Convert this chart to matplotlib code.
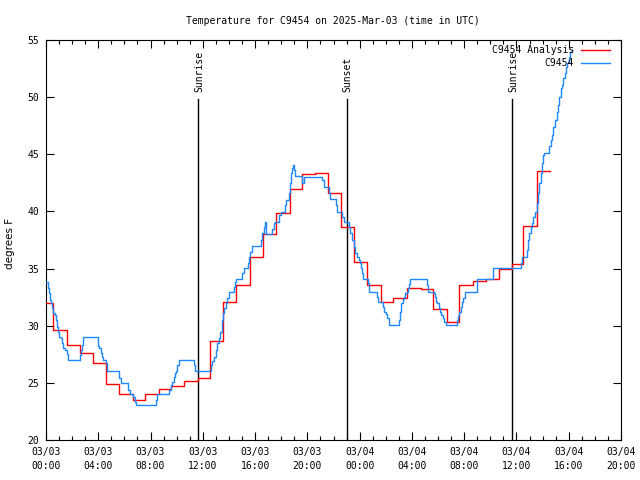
import numpy as np
import matplotlib
matplotlib.use('Agg')
import matplotlib.pyplot as plt
from matplotlib.ticker import MultipleLocator, FuncFormatter

# hours since 2025-03-03 00:00 UTC
obs_hours = [0.0, 0.15, 0.23, 0.31, 0.41, 0.49, 0.56, 0.66, 0.74, 0.82, 0.92, 1.0, 1.15, 1.23,
             1.33, 1.48, 1.58, 1.69, 2.61, 2.71, 2.78, 2.86, 3.96, 4.06, 4.21, 4.32, 4.39, 4.57,
             4.65, 5.62, 5.72, 6.31, 6.44, 6.69, 6.79, 6.9, 8.45, 8.53, 9.45, 9.55, 9.66, 9.76,
             9.86, 9.96, 10.06, 10.17, 11.29, 11.37, 12.62, 12.74, 12.87, 12.98, 13.08, 13.21,
             13.33, 13.44, 13.54, 13.64, 13.77, 13.84, 13.97, 14.36, 14.43, 14.53, 14.97, 15.12,
             15.43, 15.53, 15.63, 15.74, 16.45, 16.55, 16.65, 16.73, 16.81, 16.86, 17.32, 17.42,
             17.55, 17.83, 17.98, 18.26, 18.37, 18.57, 18.65, 18.75, 18.83, 18.88, 18.95, 19.08,
             19.57, 19.72, 21.12, 21.25, 21.66, 21.76, 22.17, 22.27, 22.66, 22.78, 23.17, 23.24,
             23.4, 23.6, 23.68, 23.81, 23.93, 24.01, 24.11, 24.21, 24.27, 24.62, 24.73, 25.34,
             25.39, 25.8, 25.9, 26.0, 26.1, 26.23, 26.99, 27.08, 27.18, 27.28, 27.38, 27.49,
             27.59, 27.69, 27.79, 27.89, 29.17, 29.22, 29.66, 29.73, 29.83, 29.94, 30.04, 30.14,
             30.24, 30.35, 30.45, 30.6, 31.47, 31.52, 31.62, 31.72, 31.83, 31.93, 32.03, 32.95,
             33.0, 34.18, 34.23, 36.37, 36.45, 36.78, 36.88, 36.98, 37.09, 37.19, 37.29, 37.39,
             37.6, 37.67, 37.75, 37.85, 37.98, 38.06, 38.11, 38.52, 38.62, 38.75, 38.83, 38.93,
             39.08, 39.19, 39.29, 39.39, 39.51, 39.59, 39.69, 39.77, 39.89, 39.99, 40.09, 40.22]
obs_temp = [33.83, 33.27, 32.83, 32.25, 31.96, 31.52, 31.08, 30.94, 30.5, 29.92, 29.48, 29.04, 28.9, 28.46,
            28.08, 27.88, 27.5, 27.0, 27.44, 27.88, 28.31, 28.98, 28.23, 28.02, 27.58, 27.29, 27.0, 26.71,
            26.04, 25.4, 24.96, 24.38, 24.0, 23.74, 23.36, 23.06, 23.5, 24.0, 24.38, 24.81, 25.1, 25.54,
            25.83, 26.04, 26.56, 27.0, 26.53, 26.04, 26.57, 26.95, 27.3, 27.88, 28.47, 28.9,
            29.49, 30.51, 31.09, 31.53, 32.02, 32.4, 32.99, 33.42, 33.86, 34.06, 34.59, 35.03,
            35.47, 35.99, 36.49, 37.01, 37.51, 38.09, 38.67, 39.05, 38.53, 38.03, 38.5, 39.02,
            39.11, 39.7, 39.98, 40.57, 41.0, 41.59, 42.46, 43.34, 43.78, 44.07, 43.63, 43.13,
            42.46, 43.05, 42.76, 42.11, 41.59, 41.06, 40.57, 39.98, 39.55, 39.11, 38.67, 38.09,
            37.5, 36.92, 36.33, 35.98, 35.75, 35.46, 35.02, 34.58, 34.06, 33.71, 32.98, 32.54,
            32.05, 31.67, 31.23, 31.03, 30.65, 30.06, 30.5, 31.23, 32.02, 32.31, 32.54, 32.83,
            32.98, 33.27, 33.65, 34.06, 33.56, 32.98, 32.83, 32.54, 32.1, 31.96, 31.52, 31.23,
            30.94, 30.65, 30.36, 30.06, 30.5, 30.85, 31.23, 31.67, 32.05, 32.4, 32.98, 33.42,
            34.06, 34.58, 35.02, 35.46, 35.99, 36.63, 37.5, 38.09, 38.67, 39.02, 39.54, 39.98,
            40.71, 41.58, 42.46, 43.33, 44.21, 44.94, 45.08, 45.73, 46.25, 46.69, 47.36, 48.0,
            48.73, 49.31, 50.04, 50.77, 51.06, 51.65, 52.14, 52.67, 52.96, 53.54, 53.98, 54.13]

ana_hours = [0.0, 0.56, 1.58, 2.6, 3.63, 4.6, 5.6, 6.64, 7.6, 8.63, 9.55, 10.57, 11.6, 12.52,
             13.54, 14.54, 15.58, 16.6, 17.62, 18.65, 19.6, 20.6, 21.58, 22.58, 23.57, 24.57,
             25.6, 26.57, 27.6, 28.66, 29.63, 30.65, 31.62, 32.64, 33.69, 34.64, 35.66, 36.5,
             37.6, 38.57]
ana_temp = [32.0, 29.6, 28.3, 27.6, 26.7, 24.9, 24.0, 23.5, 24.0, 24.5, 24.7, 25.15, 25.4, 28.65,
            32.05, 33.6, 36.0, 38.0, 39.85, 42.0, 43.3, 43.4, 41.65, 38.6, 35.55, 33.55,
            32.1, 32.4, 33.3, 33.2, 31.45, 30.35, 33.55, 33.95, 34.1, 34.95, 35.4, 38.75,
            43.5, 43.5]

events = ['Sunrise', 'Sunset', 'Sunrise']
event_hours = [11.65, 23.0, 35.66]

MONO = 'DejaVu Sans Mono'
RED = '#ff0000'
BLUE = '#1e88ff'


def hour_label(h, pos=None):
    day = 3 + int(h // 24)
    return f'03/{day:02d}\n{int(h % 24):02d}:00'


fig = plt.figure(figsize=(6.4, 4.8), dpi=100)
ax = fig.add_axes([46 / 640, 40 / 480, 575 / 640, 400 / 480])

ax.plot(ana_hours, ana_temp, drawstyle='steps-post', color=RED, lw=1.0,
        label='C9454 Analysis', zorder=3)
ax.plot(obs_hours, obs_temp, drawstyle='steps-post', color=BLUE, lw=1.0,
        label='C9454', zorder=4)

for name, h in zip(events, event_hours):
    ax.plot([h, h], [20, 49.8], color='black', lw=1.0, zorder=2)
    ax.text(h + 0.08, 50.45, name, rotation=90, ha='center', va='bottom',
            family=MONO, fontsize=7)

ax.set_xlim(0, 44)
ax.set_ylim(20, 55)
ax.xaxis.set_major_locator(MultipleLocator(4))
ax.xaxis.set_minor_locator(MultipleLocator(1))
ax.xaxis.set_major_formatter(FuncFormatter(hour_label))
ax.yaxis.set_major_locator(MultipleLocator(5))
ax.tick_params(which='both', direction='in', top=True, right=True, width=0.8)
ax.tick_params(which='major', length=6, pad=5)
ax.tick_params(which='minor', length=3)
for lab in ax.get_xticklabels():
    lab.set_family(MONO)
    lab.set_fontsize(7)
    lab.set_linespacing(1.45)
for lab in ax.get_yticklabels():
    lab.set_family(MONO)
    lab.set_fontsize(7)
for sp in ax.spines.values():
    sp.set_linewidth(0.8)

leg = ax.legend(loc='upper right', bbox_to_anchor=((610 - 46) / 575, (440 - 45) / 400),
                frameon=False, markerfirst=False, borderpad=0, borderaxespad=0,
                handlelength=3.0, handletextpad=0.7, labelspacing=0.3,
                prop={'family': MONO, 'size': 7})
for t in leg.get_texts():
    t.set_ha('right')

fig.text(333 / 640, 1 - 21 / 480, 'Temperature for C9454 on 2025-Mar-03 (time in UTC)',
         ha='center', va='center', family=MONO, fontsize=7)
fig.text(10 / 640, 1 - 243 / 480, 'degrees F', rotation=90, ha='center', va='center',
         fontsize=7.5)

fig.savefig('out.png', dpi=100)
